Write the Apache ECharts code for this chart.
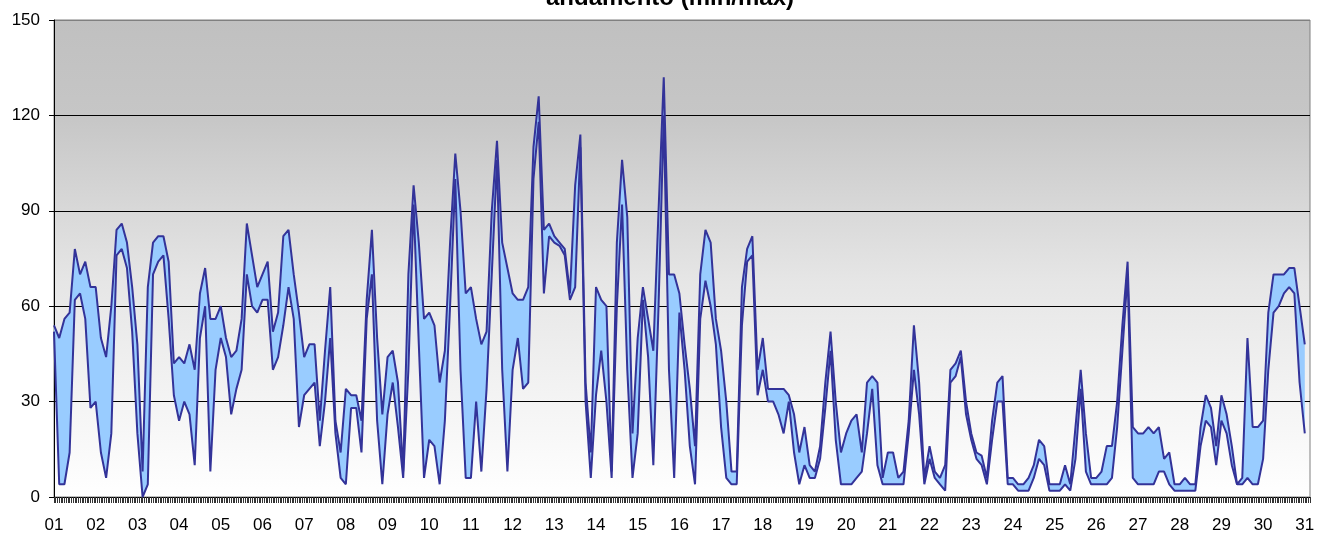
<!DOCTYPE html>
<html>
<head>
<meta charset="utf-8">
<title>andamento (min/max)</title>
<script src="https://cdn.jsdelivr.net/npm/echarts@6/dist/echarts.min.js"></script>
<style>
  html, body { margin: 0; padding: 0; background: #ffffff; }
  #chart { width: 1318px; height: 534px; }
</style>
</head>
<body>
<div id="chart"></div>
<script>
// one reading every 3 hours, 01 00:00 .. 31 00:00
const stepHours = 3;
const totalHours = 724; // hourly slots on the axis, one tick each

const dayLabels = ['01', '02', '03', '04', '05', '06', '07', '08', '09', '10',
  '11', '12', '13', '14', '15', '16', '17', '18', '19', '20',
  '21', '22', '23', '24', '25', '26', '27', '28', '29', '30', '31'];

const maxVals = [
  54, 50, 56, 58, 78, 70, 74, 66,
  66, 50, 44, 60, 84, 86, 80, 66,
  48, 8, 66, 80, 82, 82, 74, 42,
  44, 42, 48, 40, 64, 72, 56, 56,
  60, 50, 44, 46, 56, 86, 76, 66,
  70, 74, 52, 58, 82, 84, 70, 58,
  44, 48, 48, 24, 46, 66, 24, 14,
  34, 32, 32, 24, 62, 84, 50, 26,
  44, 46, 36, 8, 70, 98, 80, 56,
  58, 54, 36, 46, 80, 108, 90, 64,
  66, 56, 48, 52, 90, 112, 80, 72,
  64, 62, 62, 66, 110, 126, 84, 86,
  82, 80, 78, 64, 98, 114, 36, 14,
  66, 62, 60, 8, 80, 106, 88, 20,
  50, 66, 56, 46, 90, 132, 70, 70,
  64, 48, 34, 16, 70, 84, 80, 56,
  46, 30, 8, 8, 66, 78, 82, 40,
  50, 34, 34, 34, 34, 32, 26, 14,
  22, 10, 8, 16, 36, 52, 30, 14,
  20, 24, 26, 14, 36, 38, 36, 6,
  14, 14, 6, 8, 24, 54, 36, 6,
  16, 8, 6, 10, 40, 42, 46, 30,
  20, 14, 13, 6, 24, 36, 38, 6,
  6, 4, 4, 6, 10, 18, 16, 4,
  4, 4, 10, 4, 22, 40, 20, 6,
  6, 8, 16, 16, 30, 54, 74, 22,
  20, 20, 22, 20, 22, 12, 14, 4,
  4, 6, 4, 4, 22, 32, 28, 16,
  32, 26, 16, 4, 6, 50, 22, 22,
  24, 58, 70, 70, 70, 72, 72, 60,
  48
];

const minVals = [
  52, 4, 4, 14, 62, 64, 56, 28,
  30, 14, 6, 20, 76, 78, 72, 52,
  20, 0, 4, 70, 74, 76, 56, 32,
  24, 30, 26, 10, 50, 60, 8, 40,
  50, 44, 26, 34, 40, 70, 60, 58,
  62, 62, 40, 44, 54, 66, 56, 22,
  32, 34, 36, 16, 30, 50, 20, 6,
  4, 28, 28, 14, 56, 70, 24, 4,
  26, 36, 22, 6, 40, 92, 48, 6,
  18, 16, 4, 24, 60, 100, 40, 6,
  6, 30, 8, 34, 70, 106, 40, 8,
  40, 50, 34, 36, 100, 118, 64, 82,
  80, 79, 76, 62, 66, 110, 30, 6,
  32, 46, 30, 6, 60, 92, 40, 6,
  20, 62, 44, 10, 60, 120, 40, 6,
  58, 40, 16, 4, 56, 68, 60, 48,
  22, 6, 4, 4, 54, 74, 76, 32,
  40, 30, 30, 26, 20, 30, 14, 4,
  10, 6, 6, 12, 28, 46, 18, 4,
  4, 4, 6, 8, 20, 34, 10, 4,
  4, 4, 4, 4, 20, 40, 26, 4,
  12, 6, 4, 2, 36, 38, 44, 26,
  18, 12, 10, 4, 18, 30, 30, 4,
  4, 2, 2, 2, 6, 12, 10, 2,
  2, 2, 4, 2, 12, 34, 8, 4,
  4, 4, 4, 6, 22, 46, 70, 6,
  4, 4, 4, 4, 8, 8, 4, 2,
  2, 2, 2, 2, 16, 24, 22, 10,
  24, 20, 10, 4, 4, 6, 4, 4,
  12, 40, 58, 60, 64, 66, 64, 36,
  20
];

const hourCats = Array.from({ length: totalHours }, (_, h) => String(h));
const hours = maxVals.map((v, i) => i * stepHours);
const minData = minVals.map((v, i) => [hours[i], v]);
const bandData = maxVals.map((v, i) => [hours[i], v - minVals[i]]);

const chart = echarts.init(document.getElementById('chart'), null, { renderer: 'canvas' });

const lineColor = '#333399';
const fontFamily = 'Arial, "Liberation Sans", sans-serif';

const option = {
  animation: false,
  title: {
    text: 'andamento (min/max)',
    left: 665,
    top: -19,
    textAlign: 'center',
    textStyle: { fontSize: 24, fontWeight: 'bold', color: '#000', fontFamily: fontFamily }
  },
  grid: {
    left: 54,
    right: 8,
    top: 20,
    bottom: 37,
    outerBoundsMode: 'none',
    show: true,
    borderColor: '#808080',
    borderWidth: 1,
    backgroundColor: new echarts.graphic.LinearGradient(0, 0, 0, 1, [
      { offset: 0, color: '#c0c0c0' },
      { offset: 0.2, color: '#c6c6c6' },
      { offset: 0.55, color: '#e6e6e6' },
      { offset: 1, color: '#ffffff' }
    ])
  },
  xAxis: {
    type: 'category',
    data: hourCats,
    boundaryGap: false,
    axisLine: { show: true, lineStyle: { color: '#000', width: 1 } },
    axisTick: { show: true, interval: 0, length: 6, lineStyle: { color: '#333' } },
    splitLine: { show: false },
    axisLabel: {
      interval: 23,
      fontSize: 17,
      color: '#000',
      fontFamily: fontFamily,
      margin: 20,
      formatter: (v, idx) => dayLabels[idx / 24] || ''
    }
  },
  yAxis: {
    type: 'value',
    min: 0,
    max: 150,
    interval: 30,
    axisLine: { show: true, lineStyle: { color: '#000', width: 1 } },
    axisTick: { show: true, length: 5, lineStyle: { color: '#000' } },
    splitLine: {
      show: true,
      lineStyle: { color: ['#000', '#000', '#000', '#000', '#000', '#808080'], width: 1 }
    },
    axisLabel: { fontSize: 17, color: '#000', fontFamily: fontFamily, margin: 14 }
  },
  series: [
    {
      name: 'min',
      type: 'line',
      stack: 'range',
      data: minData,
      symbol: 'none',
      z: 3,
      lineStyle: { color: lineColor, width: 2 }
    },
    {
      name: 'max',
      type: 'line',
      stack: 'range',
      data: bandData,
      symbol: 'none',
      z: 2,
      lineStyle: { color: lineColor, width: 2 },
      areaStyle: { color: '#99ccff', opacity: 1 }
    }
  ]
};

chart.setOption(option);
</script>
</body>
</html>
